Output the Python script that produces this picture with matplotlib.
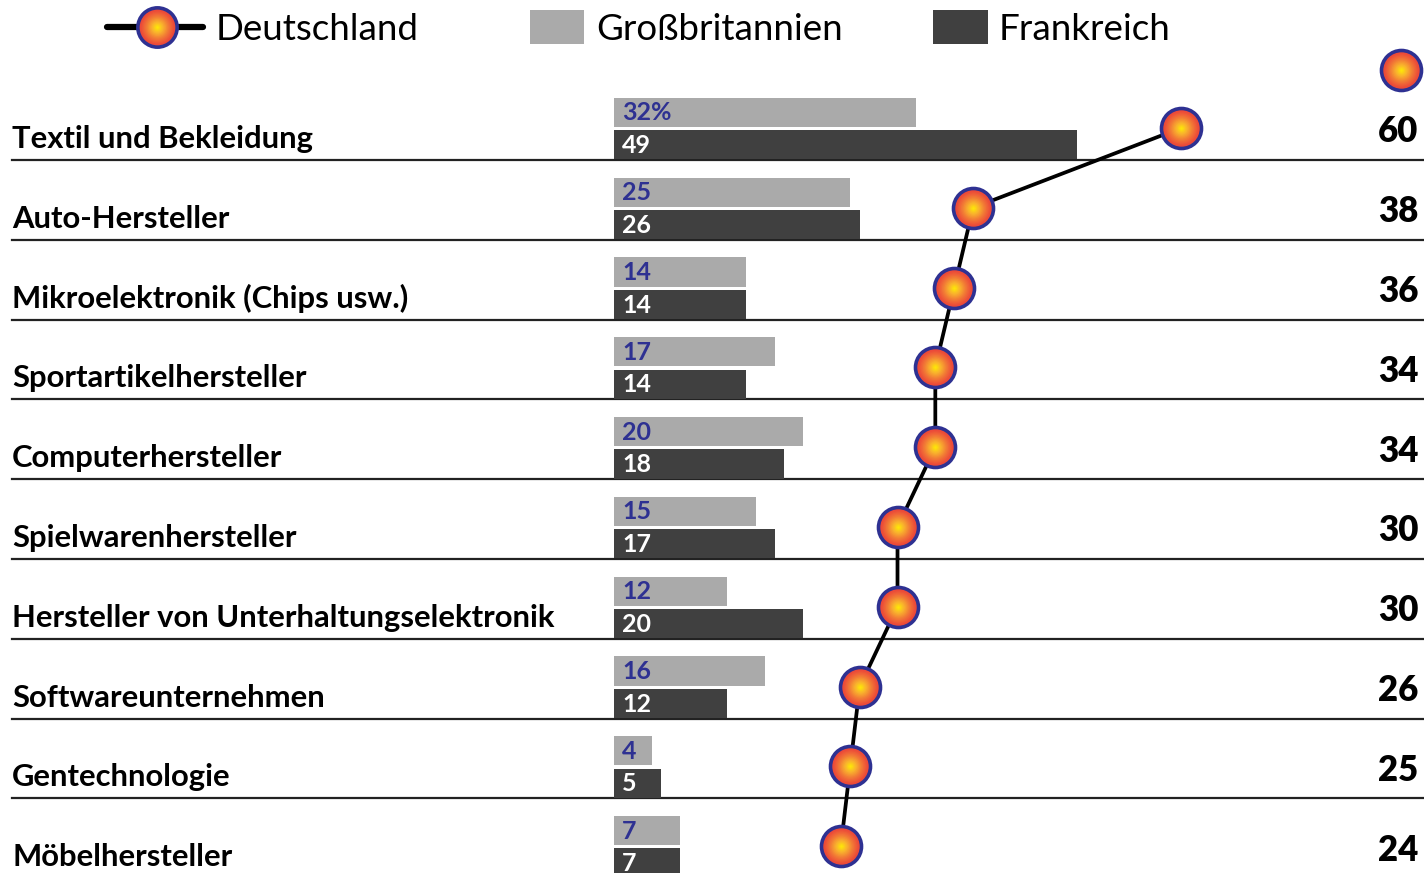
import numpy as np
import matplotlib.pyplot as plt
from matplotlib.colors import LinearSegmentedColormap

branchen = ["Textil und Bekleidung", "Auto-Hersteller", "Mikroelektronik (Chips usw.)",
            "Sportartikelhersteller", "Computerhersteller", "Spielwarenhersteller",
            "Hersteller von Unterhaltungselektronik", "Softwareunternehmen",
            "Gentechnologie", "Möbelhersteller"]
deutschland = [60, 38, 36, 34, 34, 30, 30, 26, 25, 24]
grossbritannien = [32, 25, 14, 17, 20, 15, 12, 16, 4, 7]
frankreich = [49, 26, 14, 14, 18, 17, 20, 12, 5, 7]
gb_labels = ["32%", "25", "14", "17", "20", "15", "12", "16", "4", "7"]

plt.rcParams['font.family'] = ['Lato', 'DejaVu Sans']

grau = '#aaaaaa'
dunkel = '#404040'
navy = '#2e3192'
verlauf = LinearSegmentedColormap.from_list('kugel', ['#ec4a38', '#f27a36', '#f9b52c', '#fff000'])


# punkt mit farbverlauf (mehrere kreise übereinander)
def kugel(ax, x, y, s=830, z=5):
    ax.scatter(x, y, s=s, facecolor='#ec4a38', edgecolor=navy, linewidth=2.6, zorder=z)
    n = 14
    for k in range(1, n):
        t = k / n
        ax.scatter(x, y, s=(s * 0.78) * (1 - t) ** 2, color=verlauf(t), linewidth=0, zorder=z + 0.01 * k)


fig = plt.figure(figsize=(14.24, 8.73), dpi=100)
ax = fig.add_axes([0, 0, 1, 1])
ax.set_xlim(-64.97, 85.71)
ax.set_ylim(9.336, -1.604)
ax.axis('off')

y = np.arange(len(branchen))

# balken
ax.barh(y - 0.195, grossbritannien, height=0.365, color=grau, zorder=2)
ax.barh(y + 0.21, frankreich, height=0.365, color=dunkel, zorder=2)

for i in range(len(branchen)):
    ax.text(0.85, y[i] - 0.19, gb_labels[i], color=navy, fontsize=18, fontweight='bold',
            va='center', ha='left', zorder=4)
    ax.text(0.85, y[i] + 0.22, str(frankreich[i]), color='white', fontsize=18, fontweight='bold',
            va='center', ha='left', zorder=4)
    ax.text(-63.7, y[i] + 0.25, branchen[i], color='black', fontsize=22.3, fontweight='bold',
            va='baseline', ha='left')
    ax.text(85.1, y[i] + 0.05, str(deutschland[i]), color='black', fontsize=25, fontweight='heavy',
            va='center', ha='right')
    # trennlinie
    ax.plot([-63.7, 85.71], [y[i] + 0.40, y[i] + 0.40], color='#222222', lw=1.6, zorder=1)

# linie deutschland
ax.plot(deutschland, y, color='black', lw=2.7, zorder=3)
kugel(ax, deutschland, y)

# kopf-punkt über der zahlenspalte
kugel(ax, [83.3], [-0.727])

# legende
ly = -1.266
ty = -1.24
ax.plot([-53.6, -43.5], [ly, ly], color='black', lw=4.5, solid_capstyle='round', zorder=3)
kugel(ax, [-48.4], [ly], s=800)
ax.text(-42.2, ty, "Deutschland", fontsize=26.5, fontweight='normal', va='center', ha='left')
ax.barh([ly], [5.72], left=-8.89, height=0.426, color=grau)
ax.text(-1.9, ty, "Großbritannien", fontsize=26.5, fontweight='normal', va='center', ha='left')
ax.barh([ly], [5.82], left=33.76, height=0.426, color=dunkel)
ax.text(40.74, ty, "Frankreich", fontsize=26.5, fontweight='normal', va='center', ha='left')

fig.savefig('out.png', dpi=100)
